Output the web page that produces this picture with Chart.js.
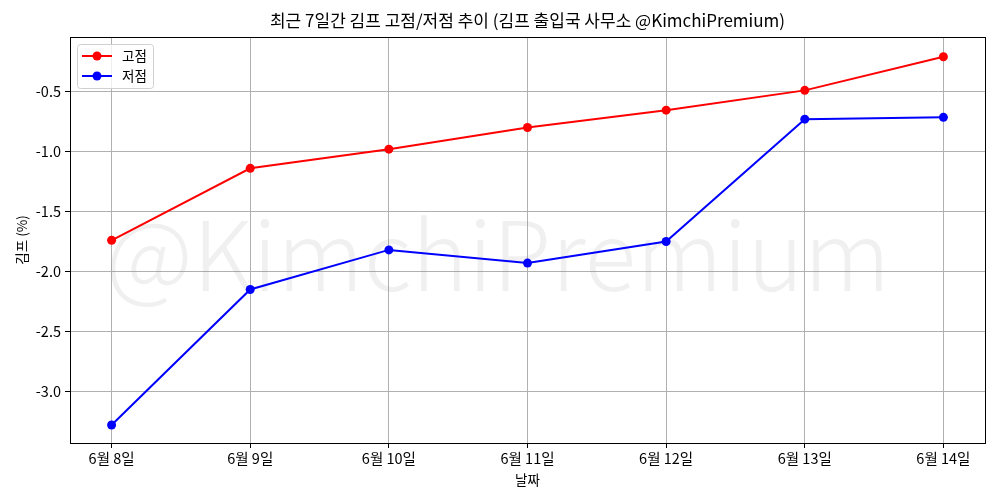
<!DOCTYPE html>
<html><head><meta charset="utf-8">
<script src="https://cdn.jsdelivr.net/npm/chart.js@4"></script>
<style>html,body{margin:0;padding:0;background:#fff}#wrap{width:1000px;height:500px}</style>
</head><body><div id="wrap"><canvas id="c" width="1000" height="500"></canvas></div>
<script>
const categories = ['6월 8일','6월 9일','6월 10일','6월 11일','6월 12일','6월 13일','6월 14일'];
const highValues = [-1.74, -1.14, -0.98, -0.80, -0.655, -0.49, -0.21];
const lowValues = [-3.28, -2.15, -1.82, -1.93, -1.75, -0.73, -0.715];
const seriesNames = ['고점','저점'];
const titleText = '최근 7일간 김프 고점/저점 추이 (김프 출입국 사무소 @KimchiPremium)';
const yTitle = '김프 (%)';
const xTitle = '날짜';
const watermark = '@KimchiPremium';
const FONT = "'Noto Sans CJK KR', 'Noto Sans', sans-serif";

const toPts = arr => arr.map((v,i)=>({x:i,y:v}));

const framePlugin = {
  id:'frame',
  beforeDatasetsDraw(chart){
    const {ctx, chartArea:a} = chart;
    ctx.save();
    let size = 100;
    ctx.font = `300 ${size}px ${FONT}`;
    const w = ctx.measureText(watermark).width;
    size = size * 785 / w;
    ctx.font = `300 ${size}px ${FONT}`;
    ctx.fillStyle = 'rgba(128,128,128,0.12)';
    ctx.textAlign = 'center';
    ctx.textBaseline = 'middle';
    ctx.fillText(watermark, 498, 255);
    ctx.restore();
  },
  afterDraw(chart){
    const {ctx, chartArea:a} = chart;
    ctx.save();
    ctx.strokeStyle = '#000';
    ctx.lineWidth = 1;
    ctx.strokeRect(Math.round(a.left)+0.5, Math.round(a.top)+0.5, Math.round(a.right-a.left), Math.round(a.bottom-a.top));
    // title
    ctx.fillStyle = '#000';
    ctx.font = `17px ${FONT}`;
    ctx.textAlign = 'center';
    ctx.textBaseline = 'middle';
    ctx.fillText(titleText, (a.left + a.right)/2, 21);
    // legend
    const lx = a.left + 7, ly = a.top + 7, lw = 76, lh = 44;
    ctx.fillStyle = 'rgba(255,255,255,0.8)';
    ctx.strokeStyle = '#d0d0d0';
    ctx.beginPath();
    if (ctx.roundRect) ctx.roundRect(lx+0.5, ly+0.5, lw, lh, 3); else ctx.rect(lx+0.5, ly+0.5, lw, lh);
    ctx.fill(); ctx.stroke();
    const cols = ['#ff0000','#0000ff'];
    ctx.font = `13.5px ${FONT}`;
    ctx.textBaseline = 'middle';
    ctx.textAlign = 'left';
    for (let i=0;i<2;i++){
      const y = ly + 12 + i*20;
      ctx.strokeStyle = cols[i]; ctx.lineWidth = 2;
      ctx.beginPath(); ctx.moveTo(lx+5, y); ctx.lineTo(lx+35, y); ctx.stroke();
      ctx.fillStyle = cols[i];
      ctx.beginPath(); ctx.arc(lx+20, y, 4.5, 0, Math.PI*2); ctx.fill();
      ctx.fillStyle = '#000';
      ctx.fillText(seriesNames[i], lx+45, y);
    }
    ctx.restore();
  }
};

new Chart(document.getElementById('c'), {
  type:'line',
  data:{datasets:[
    {label:seriesNames[0], data:toPts(highValues), borderColor:'#ff0000', backgroundColor:'#ff0000', borderWidth:2, pointRadius:4.5, pointHoverRadius:4.5, pointBorderWidth:0, tension:0},
    {label:seriesNames[1], data:toPts(lowValues), borderColor:'#0000ff', backgroundColor:'#0000ff', borderWidth:2, pointRadius:4.5, pointHoverRadius:4.5, pointBorderWidth:0, tension:0}
  ]},
  options:{
    responsive:false, animation:false,
    layout:{padding:{left:14,right:15,top:37,bottom:12}},
    plugins:{
      legend:{display:false}, tooltip:{enabled:false}, title:{display:false}
    },
    scales:{
      x:{type:'linear', min:-0.3, max:6.3,
        afterBuildTicks(s){ s.ticks = categories.map((c,i)=>({value:i})); },
        afterFit(s){ s.height = 45; },
        ticks:{callback:(v)=>categories[v], color:'#000', font:{family:FONT,size:14.5}, padding:2, maxRotation:0, autoSkip:false},
        grid:{color:'#b0b0b0', lineWidth:1, tickColor:'#000', tickLength:5},
        border:{display:false},
        title:{display:true, text:xTitle, color:'#000', font:{family:FONT,size:13.5}, padding:{top:0,bottom:0}}
      },
      y:{type:'linear', min:-3.43, max:-0.045,
        afterBuildTicks(s){ s.ticks = [-3.0,-2.5,-2.0,-1.5,-1.0,-0.5].map(v=>({value:v})); },
        afterFit(s){ s.width = 56; },
        ticks:{callback:(v)=>v.toFixed(1), color:'#000', font:{family:FONT,size:14.5}, padding:4},
        grid:{color:'#b0b0b0', lineWidth:1, tickColor:'#000', tickLength:5},
        border:{display:false},
        title:{display:true, text:yTitle, color:'#000', font:{family:FONT,size:13.5}, padding:{top:0,bottom:0}}
      }
    }
  },
  plugins:[framePlugin]
});
</script></body></html>
